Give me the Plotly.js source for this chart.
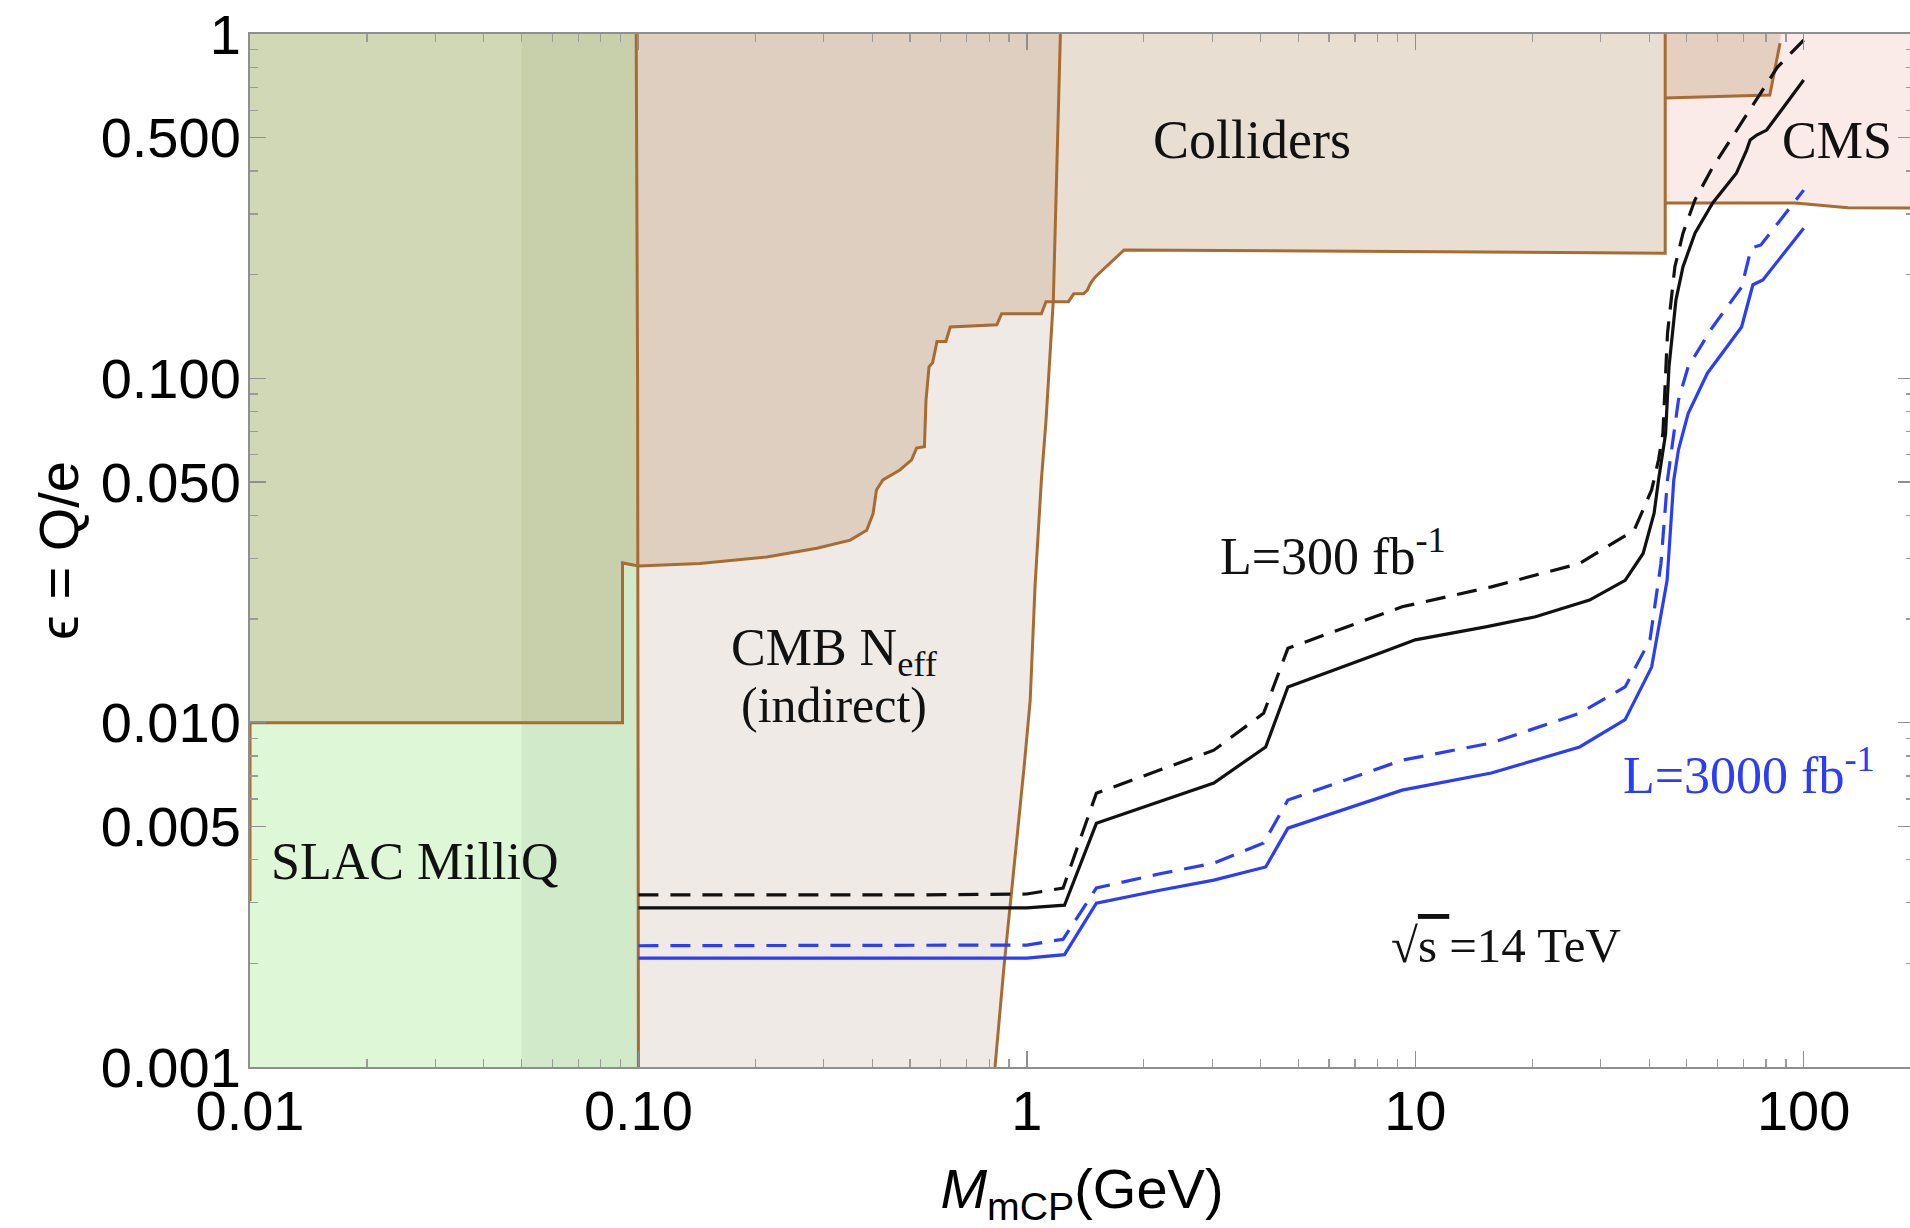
<!DOCTYPE html>
<html>
<head>
<meta charset="utf-8">
<script src="https://cdn.plot.ly/plotly-3.0.1.min.js"></script>
<style>
html, body { margin: 0; padding: 0; overflow: hidden; background: #fff; }
#chart { width: 1914px; height: 1228px; }
</style>
</head>
<body>
<div id="chart"></div>
<script>
// ---------------- data ----------------
const xTickVals = [0.01, 0.1, 1, 10, 100];
const xTickText = ["0.01", "0.10", "1", "10", "100"];
const xMinorVals = [0.02,0.03,0.04,0.05,0.06,0.07,0.08,0.09,0.2,0.3,0.4,0.5,0.6,0.7,0.8,0.9,2,3,4,5,6,7,8,9,20,30,40,50,60,70,80,90];
const yTickVals = [0.001, 0.005, 0.01, 0.05, 0.1, 0.5, 1];
const yTickText = ["0.001", "0.005", "0.010", "0.050", "0.100", "0.500", "1"];
const yMinorVals = [0.002,0.003,0.004,0.006,0.007,0.008,0.009,0.02,0.03,0.04,0.06,0.07,0.08,0.09,0.2,0.3,0.4,0.6,0.7,0.8,0.9];

// SLAC MilliQ region
const slacX = [0.01, 0.1, 0.1, 0.01];
const slacY = [0.001, 0.001, 1, 1];
const slacBandX = [0.05, 0.1, 0.1, 0.05];
const slacBandY = [0.001, 0.001, 1, 1];

// CMB N_eff region edges
const cmbLeftX = [0.1, 0.0995, 0.0987];
const cmbLeftY = [0.001, 0.1, 1];
const cmbRightX = [1.22, 1.17, 1.12, 1.09, 1.05, 1.02, 0.984, 0.945, 0.908, 0.873, 0.828];
const cmbRightY = [1, 0.169, 0.075, 0.0507, 0.025, 0.0116, 0.00745, 0.00477, 0.00305, 0.00195, 0.001];

// Colliders lower boundary
const colliderX = [0.01, 0.01, 0.091, 0.091, 0.1, 0.144, 0.214, 0.288, 0.351, 0.387, 0.402, 0.410, 0.426, 0.471, 0.505, 0.52, 0.545, 0.55, 0.56, 0.572, 0.587, 0.619, 0.635, 0.837, 0.861, 1.09, 1.12, 1.28, 1.32, 1.40, 1.43, 1.46, 1.50, 1.78, 44, 44];
const colliderY = [0.00303, 0.01, 0.01, 0.0291, 0.0285, 0.029, 0.0303, 0.0321, 0.0339, 0.0362, 0.0405, 0.0474, 0.0507, 0.0542, 0.058, 0.0627, 0.0633, 0.0865, 0.108, 0.111, 0.128, 0.128, 0.141, 0.143, 0.154, 0.154, 0.167, 0.167, 0.176, 0.176, 0.180, 0.189, 0.197, 0.236, 0.231, 1];
// Colliders patch above CMS
const patchX = [44, 81.8, 86.9, 87.3];
const patchY = [0.652, 0.665, 0.94, 1];

// CMS region
const cmsX = [44, 95, 130, 200];
const cmsY = [0.323, 0.323, 0.313, 0.312];

// Projected reach, L = 300 fb^-1
const m300solid = [0.1, 0.5, 1.0, 1.25, 1.51, 2.2, 3.03, 4.12, 4.70, 8.09, 10, 15.3, 20.4, 28.1, 34.7, 38.6, 41.2, 42.3, 44.1, 45.0, 45.9, 46.9, 48.9, 52.5, 58.3, 67.1, 71.3, 72.8, 75.7, 80.3, 100];
const e300solid = [0.0029, 0.0029, 0.0029, 0.00295, 0.0051, 0.0059, 0.00668, 0.0085, 0.0127, 0.0159, 0.0174, 0.019, 0.0203, 0.0227, 0.0259, 0.031, 0.0406, 0.0507, 0.069, 0.108, 0.135, 0.169, 0.211, 0.264, 0.323, 0.394, 0.46, 0.492, 0.509, 0.526, 0.735];
const m300dash = [0.1, 0.5, 1.0, 1.24, 1.51, 2.2, 3.03, 4.07, 4.70, 9.25, 15.7, 26.5, 36.6, 40.6, 42.3, 43.4, 44.6, 45.6, 46.6, 48.9, 52.5, 58.3, 66.5, 75.4, 85.5, 100];
const e300dash = [0.00316, 0.00316, 0.00318, 0.00331, 0.00624, 0.0073, 0.00832, 0.01065, 0.01644, 0.0217, 0.0248, 0.029, 0.0362, 0.0474, 0.058, 0.069, 0.135, 0.169, 0.211, 0.264, 0.33, 0.41, 0.515, 0.64, 0.80, 0.96];

// Projected reach, L = 3000 fb^-1
const m3000solid = [0.1, 0.5, 1.0, 1.25, 1.51, 2.2, 3.03, 4.12, 4.70, 9.25, 15.7, 26.5, 34.7, 40.6, 44.5, 46.3, 47.6, 50.4, 56.5, 69.2, 74.0, 78.5, 100];
const e3000solid = [0.00207, 0.00207, 0.00207, 0.00212, 0.00299, 0.00326, 0.00349, 0.00381, 0.00494, 0.00637, 0.00714, 0.0085, 0.0102, 0.0145, 0.0259, 0.0507, 0.062, 0.079, 0.1035, 0.141, 0.187, 0.193, 0.273];
const m3000dash = [0.1, 0.5, 1.0, 1.24, 1.51, 2.2, 3.03, 4.07, 4.70, 9.25, 15.7, 26.5, 34.7, 40.2, 42.9, 44.6, 47.6, 50.4, 58.3, 69.2, 73.3, 77.6, 100];
const e3000dash = [0.00225, 0.00225, 0.00226, 0.00235, 0.00331, 0.00364, 0.00391, 0.00447, 0.00596, 0.00778, 0.00873, 0.01065, 0.0127, 0.0174, 0.029, 0.0507, 0.0865, 0.108, 0.141, 0.184, 0.239, 0.244, 0.352];

// ---------------- styles ----------------
const BROWN = '#a86b32';
const BLUE = '#2b3df5';
const BLACK = '#111111';
const DASH = '20px,12px';

function fillTrace(x, y, color) {
  return {x: x, y: y, type: 'scatter', mode: 'lines', fill: 'toself', fillcolor: color,
          line: {width: 0, color: color}, hoverinfo: 'skip', showlegend: false};
}
function lineTrace(x, y, color, width, dash) {
  return {x: x, y: y, type: 'scatter', mode: 'lines',
          line: {color: color, width: width, dash: dash || 'solid'}, hoverinfo: 'skip', showlegend: false};
}

const cmbPolyX = cmbLeftX.concat(cmbRightX);
const cmbPolyY = cmbLeftY.concat(cmbRightY);
const colliderPolyX = colliderX.concat([0.01]);
const colliderPolyY = colliderY.concat([1]);
const patchPolyX = patchX.concat([44]);
const patchPolyY = patchY.concat([1]);
const cmsPolyX = cmsX.concat([cmsX[cmsX.length - 1], cmsX[0]]);
const cmsPolyY = cmsY.concat([1, 1]);
const COLL = 'rgba(175,135,95,0.28)';

const traces = [
  fillTrace(slacX, slacY, '#ddf7d7'),
  fillTrace(slacBandX, slacBandY, 'rgba(110,130,90,0.10)'),
  fillTrace(cmbPolyX, cmbPolyY, '#f0eae6'),
  fillTrace(cmsPolyX, cmsPolyY, '#faeae8'),
  fillTrace(colliderPolyX, colliderPolyY, COLL),
  fillTrace(patchPolyX, patchPolyY, COLL),
  lineTrace(cmbLeftX, cmbLeftY, BROWN, 3),
  lineTrace(cmbRightX, cmbRightY, BROWN, 3),
  lineTrace(cmsX, cmsY, BROWN, 3),
  lineTrace(colliderX, colliderY, BROWN, 3),
  lineTrace(patchX.slice(0, 3), patchY.slice(0, 3), BROWN, 3),
  lineTrace(m300dash, e300dash, BLACK, 3.2, DASH),
  lineTrace(m300solid, e300solid, BLACK, 3.2),
  lineTrace(m3000dash, e3000dash, BLUE, 3.2, DASH),
  lineTrace(m3000solid, e3000solid, BLUE, 3.2)
];

const serif = 'Liberation Serif, Times New Roman, serif';
const sans = 'Liberation Sans, Arial, Helvetica, sans-serif';
function note(text, x, y, color, size) {
  return {text: text, xref: 'paper', yref: 'paper', x: x, y: y, xanchor: 'center', yanchor: 'middle',
          showarrow: false, font: {family: serif, size: size || 52, color: color || BLACK}};
}

const axisCommon = {
  type: 'log', showgrid: false, zeroline: false,
  showline: true, linecolor: '#8f8f8f', linewidth: 2, mirror: 'allticks',
  ticks: 'inside', ticklen: 16, tickwidth: 1.5, tickcolor: '#8f8f8f',
  tickmode: 'array',
  tickfont: {family: sans, size: 56, color: '#000'}
};

const layout = {
  width: 1914, height: 1228,
  margin: {l: 250, r: 0, t: 34, b: 161},
  paper_bgcolor: '#ffffff', plot_bgcolor: '#ffffff',
  showlegend: false,
  xaxis: Object.assign({}, axisCommon, {
    range: [-2, 2.284],
    tickvals: xTickVals, ticktext: xTickText,
    minor: {tickmode: 'array', tickvals: xMinorVals, ticks: 'inside', ticklen: 8, tickwidth: 1.2, tickcolor: '#9a9a9a'},
    ticklabelstandoff: -6,
    title: {text: '<i>M</i><sub>mCP</sub>(GeV)', font: {family: sans, size: 56, color: '#000'}, standoff: 50}
  }),
  yaxis: Object.assign({}, axisCommon, {
    range: [-3, 0],
    tickvals: yTickVals, ticktext: yTickText,
    minor: {tickmode: 'array', tickvals: yMinorVals, ticks: 'inside', ticklen: 8, tickwidth: 1.2, tickcolor: '#9a9a9a'},
    ticklabelstandoff: -4,
    title: {text: 'ϵ = Q/e', font: {family: sans, size: 56, color: '#000'}, standoff: 4}
  }),
  annotations: [
    note('Colliders', 0.602, 0.897, BLACK, 54),
    note('CMS', 0.954, 0.897),
    note('CMB N<sub>eff</sub>', 0.351, 0.402),
    note('(indirect)', 0.351, 0.350, BLACK, 50),
    note('SLAC MilliQ', 0.0992, 0.1985),
    note('L=300 fb<sup>-1</sup>', 0.651, 0.4985),
    note('L=3000 fb<sup>-1</sup>', 0.901, 0.2865, BLUE),
    note('√<span style="text-decoration:overline">s </span>=14 TeV', 0.755, 0.118, BLACK, 49)
  ]
};

Plotly.newPlot('chart', traces, layout, {displayModeBar: false, staticPlot: true});
</script>
</body>
</html>
